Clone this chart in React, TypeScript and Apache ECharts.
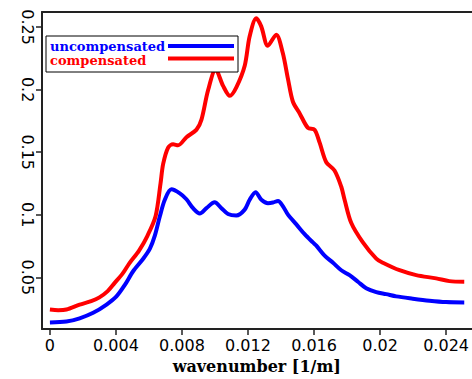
import React, { useEffect, useRef } from "react";
import * as echarts from "echarts";

// Amplitude spectra versus wavenumber
const uncompK = [
  0, 0.001, 0.0018, 0.00262, 0.00343, 0.00403, 0.00454, 0.00504, 0.00565, 0.00605,
  0.00635, 0.00666, 0.00696, 0.00736, 0.00787, 0.00827, 0.00867, 0.00908, 0.00948,
  0.00998, 0.01039, 0.01079, 0.01129, 0.0118, 0.0121, 0.01246, 0.01281, 0.01321,
  0.01351, 0.01382, 0.01412, 0.01442, 0.01493, 0.01543, 0.01593, 0.01614, 0.01664,
  0.01715, 0.01765, 0.01815, 0.01866, 0.01916, 0.01977, 0.02037, 0.02098, 0.02198,
  0.02299, 0.024, 0.0251,
];
const uncompAmp = [
  0.0139, 0.0147, 0.0173, 0.0217, 0.0283, 0.0348, 0.044, 0.0549, 0.0649, 0.0727,
  0.0831, 0.0988, 0.112, 0.1203, 0.1171, 0.1124, 0.1053, 0.101, 0.1053,
  0.11, 0.1053, 0.1006, 0.0994, 0.1041, 0.112, 0.118, 0.112, 0.1093,
  0.1098, 0.1111, 0.1067, 0.1001, 0.0923, 0.0845, 0.0779, 0.0753, 0.0674,
  0.0617, 0.0557, 0.0518, 0.0465, 0.0413, 0.0382, 0.0366, 0.0348, 0.033,
  0.0314, 0.0303, 0.03,
];
const compK = [
  0, 0.0005, 0.001, 0.0018, 0.0025, 0.003, 0.0035, 0.0039, 0.0044, 0.0048, 0.0054,
  0.0059, 0.0064, 0.0067, 0.00686, 0.00716, 0.00746, 0.00776, 0.00827, 0.00888,
  0.00918, 0.00958, 0.01004, 0.01049, 0.0109, 0.0113, 0.0118, 0.0121, 0.0125,
  0.0128, 0.0132, 0.01371, 0.0141, 0.01442, 0.01472, 0.01513, 0.01563, 0.01603,
  0.01634, 0.01674, 0.01724, 0.01765, 0.01785, 0.01825, 0.01896, 0.01977, 0.02017,
  0.02118, 0.02219, 0.0234, 0.0242, 0.0251,
];
const compAmp = [
  0.0243, 0.0238, 0.0243, 0.0282, 0.031, 0.034, 0.039, 0.0452, 0.053, 0.061, 0.0714,
  0.083, 0.0988, 0.125, 0.1406, 0.1537, 0.1563, 0.1555, 0.162, 0.168,
  0.176, 0.1995, 0.216, 0.203, 0.195, 0.202, 0.219, 0.2426, 0.257,
  0.2505, 0.235, 0.2439, 0.2296, 0.2086, 0.1903, 0.181, 0.1694, 0.168,
  0.1576, 0.142, 0.1354, 0.1224, 0.112, 0.0936, 0.0779, 0.0649, 0.0617,
  0.0557, 0.0518, 0.0492, 0.047, 0.0465,
];

const xTicks = [0, 0.004, 0.008, 0.012, 0.016, 0.02, 0.024];
const yTicks = [0.05, 0.1, 0.15, 0.2, 0.25];
const seriesNames = ["uncompensated", "compensated"];
const seriesColors = ["#0000ff", "#ff0000"];

const pairs = (xs: number[], ys: number[]) => xs.map((x, i) => [x, ys[i]]);

export default function App() {
  const ref = useRef<HTMLDivElement>(null);

  useEffect(() => {
    if (!ref.current) return;
    const chart = echarts.init(ref.current, null, { renderer: "svg" });
    const axisColor = "#222";
    const tickFont = { fontFamily: "DejaVu Sans", fontSize: 16, color: "#000" };
    const legendFont = "bold 13px 'DejaVu Serif'";

    chart.setOption({
      animation: false,
      backgroundColor: "#fff",
      grid: { left: 42, top: 12, right: 0, bottom: 44, containLabel: false },
      xAxis: [
        {
          type: "value",
          min: -0.00048,
          max: 0.02554,
          splitLine: { show: false },
          axisLine: { show: true, onZero: false, lineStyle: { color: axisColor, width: 2 } },
          axisTick: { show: true, customValues: xTicks, length: 6, lineStyle: { color: axisColor, width: 1.5 } },
          axisLabel: {
            customValues: xTicks,
            margin: 8,
            ...tickFont,
            formatter: (v: number) => String(Number(v.toFixed(4))),
          },
          name: "wavenumber [1/m]",
          nameLocation: "middle",
          nameGap: 26,
          nameTextStyle: { fontFamily: "DejaVu Serif", fontWeight: "bold", fontSize: 16, color: "#000" },
        },
        {
          type: "value",
          position: "top",
          min: -0.00048,
          max: 0.02554,
          splitLine: { show: false },
          axisLine: { show: true, onZero: false, lineStyle: { color: axisColor, width: 2 } },
          axisTick: { show: false },
          axisLabel: { show: false },
        },
      ],
      yAxis: {
        type: "value",
        min: 0.00867,
        max: 0.262,
        splitLine: { show: false },
        axisLine: { show: true, onZero: false, lineStyle: { color: axisColor, width: 2 } },
        axisTick: { show: true, customValues: yTicks, length: 6, lineStyle: { color: axisColor, width: 1.5 } },
        axisLabel: {
          customValues: yTicks,
          rotate: -90,
          margin: 7,
          ...tickFont,
          formatter: (v: number) => String(Number(v.toFixed(3))),
        },
      },
      series: [
        {
          name: seriesNames[0],
          type: "line",
          xAxisIndex: 0,
          data: pairs(uncompK, uncompAmp),
          showSymbol: false,
          smooth: 0.3,
          lineStyle: { color: seriesColors[0], width: 4 },
          itemStyle: { color: seriesColors[0] },
        },
        {
          name: seriesNames[1],
          type: "line",
          xAxisIndex: 0,
          data: pairs(compK, compAmp),
          showSymbol: false,
          smooth: 0.3,
          lineStyle: { color: seriesColors[1], width: 4 },
          itemStyle: { color: seriesColors[1] },
        },
      ],
      graphic: [
        {
          type: "rect",
          shape: { x: 46, y: 36, width: 192, height: 36 },
          style: { fill: "#fff", stroke: "#000", lineWidth: 1 },
          z: 10,
        },
        {
          type: "text",
          x: 50,
          y: 46.5,
          style: {
            text: seriesNames[0],
            font: legendFont,
            lineHeight: 12,
            fill: seriesColors[0],
            textVerticalAlign: "middle",
          },
          z: 11,
        },
        {
          type: "text",
          x: 50,
          y: 60,
          style: {
            text: seriesNames[1],
            font: legendFont,
            lineHeight: 12,
            fill: seriesColors[1],
            textVerticalAlign: "middle",
          },
          z: 11,
        },
        {
          type: "line",
          shape: { x1: 168, y1: 46, x2: 234, y2: 46 },
          style: { stroke: seriesColors[0], lineWidth: 4 },
          z: 11,
        },
        {
          type: "line",
          shape: { x1: 168, y1: 58.5, x2: 234, y2: 58.5 },
          style: { stroke: seriesColors[1], lineWidth: 4 },
          z: 11,
        },
      ],
    });

    return () => chart.dispose();
  }, []);

  return (
    <div
      ref={ref}
      style={{ position: "fixed", left: 0, top: 0, width: 472, height: 379, background: "#fff" }}
    />
  );
}
